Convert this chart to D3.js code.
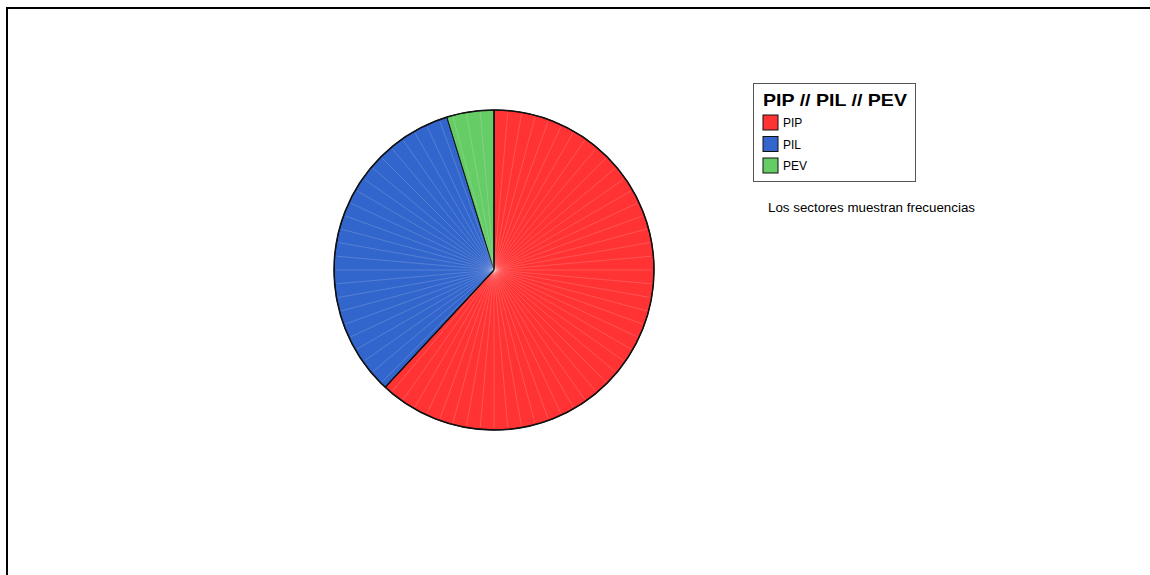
<!DOCTYPE html>
<html>
<head>
<meta charset="utf-8">
<script src="https://cdn.jsdelivr.net/npm/d3@7"></script>
<style>
  html, body { margin: 0; padding: 0; background: #fff; }
  svg { display: block; font-family: Arial, "Liberation Sans", sans-serif; }
</style>
</head>
<body>
<div id="chart"></div>
<script>
(function () {
  'use strict';

  var categories = ['PIP', 'PIL', 'PEV'];
  var counts = [13, 7, 1];
  var colors = ['#ff3333', '#3366cc', '#66cc66'];
  var legendTitle = 'PIP // PIL // PEV';
  var footnote = 'Los sectores muestran frecuencias';

  var w = 1150, h = 575;
  var cx = 494, cy = 270, r = 160;

  var svg = d3.select('#chart').append('svg')
    .attr('width', w)
    .attr('height', h);

  // frame (only top/left visible in the window)
  svg.append('rect')
    .attr('x', 7).attr('y', 8)
    .attr('width', w + 20).attr('height', h + 20)
    .attr('fill', 'none')
    .attr('stroke', '#000')
    .attr('stroke-width', 2);

  var data = categories.map(function (c, i) {
    return { name: c, value: counts[i], color: colors[i] };
  });

  var pie = d3.pie().sort(null).value(function (d) { return d.value; });
  var arc = d3.arc().innerRadius(0).outerRadius(r);
  var arcs = pie(data);

  var g = svg.append('g').attr('transform', 'translate(' + cx + ',' + cy + ')');

  g.selectAll('path.slice')
    .data(arcs)
    .enter().append('path')
    .attr('class', 'slice')
    .attr('d', arc)
    .attr('fill', function (d) { return d.data.color; })
    .attr('stroke', '#111')
    .attr('stroke-width', 1);

  // faint radial seams, like the original rendering
  var seams = d3.range(0, 360, 5).map(function (a) { return a * Math.PI / 180; });
  g.append('g').selectAll('line')
    .data(seams)
    .enter().append('line')
    .attr('x1', 0).attr('y1', 0)
    .attr('x2', function (a) { return Math.sin(a) * (r - 2); })
    .attr('y2', function (a) { return -Math.cos(a) * (r - 2); })
    .attr('stroke', '#fff')
    .attr('stroke-opacity', 0.28)
    .attr('stroke-width', 0.6);

  // outline on top
  g.append('circle')
    .attr('r', r)
    .attr('fill', 'none')
    .attr('stroke', '#111')
    .attr('stroke-width', 1.5);

  // slice edges for PIP
  g.selectAll('line.edge')
    .data([arcs[0].startAngle, arcs[0].endAngle])
    .enter().append('line')
    .attr('class', 'edge')
    .attr('x1', 0).attr('y1', 0)
    .attr('x2', function (a) { return Math.sin(a) * r; })
    .attr('y2', function (a) { return -Math.cos(a) * r; })
    .attr('stroke', '#111')
    .attr('stroke-width', 1.5);

  // legend
  var lg = svg.append('g').attr('transform', 'translate(753,83)');
  lg.append('rect')
    .attr('x', 0.5).attr('y', 0.5)
    .attr('width', 162).attr('height', 98)
    .attr('fill', '#fff')
    .attr('stroke', '#555')
    .attr('stroke-width', 1);

  lg.append('text')
    .attr('x', 10).attr('y', 23)
    .attr('font-size', 17)
    .attr('font-weight', 'bold')
    .attr('fill', '#000')
    .attr('textLength', 144)
    .attr('lengthAdjust', 'spacingAndGlyphs')
    .text(legendTitle);

  var item = lg.selectAll('g.item')
    .data(data)
    .enter().append('g')
    .attr('class', 'item')
    .attr('transform', function (d, i) { return 'translate(10,' + (32 + i * 21.5) + ')'; });

  item.append('rect')
    .attr('width', 15).attr('height', 15)
    .attr('fill', function (d) { return d.color; })
    .attr('stroke', '#111')
    .attr('stroke-width', 1);

  item.append('text')
    .attr('x', 20).attr('y', 12)
    .attr('font-size', 12)
    .attr('fill', '#000')
    .text(function (d) { return d.name; });

  svg.append('text')
    .attr('x', 768).attr('y', 212)
    .attr('font-size', 12)
    .attr('fill', '#000')
    .attr('textLength', 207)
    .attr('lengthAdjust', 'spacingAndGlyphs')
    .text(footnote);
})();
</script>
</body>
</html>
